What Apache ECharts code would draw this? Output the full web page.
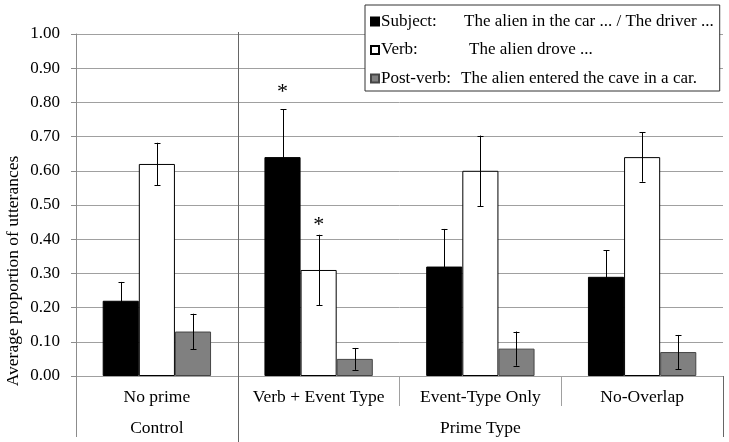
<!DOCTYPE html>
<html>
<head>
<meta charset="utf-8">
<script src="https://cdn.jsdelivr.net/npm/echarts@6/dist/echarts.min.js"></script>
<style>html,body{margin:0;padding:0;background:#fff;}#c{width:729px;height:442px;}</style>
</head>
<body>
<div id="c"></div>
<script>
const categories = ['No prime', 'Verb + Event Type', 'Event-Type Only', 'No-Overlap'];
const groupNames = ['Control', 'Prime Type'];
const groupStart = [0, 1];
const groupEnd = [0, 3];
const seriesNames = ['Subject:', 'Verb:', 'Post-verb:'];
const legendDesc = ['The alien in the car ... / The driver ...', 'The alien drove ...', 'The alien entered the cave in a car.'];
const subjectValues = [0.22, 0.64, 0.32, 0.29];
const verbValues = [0.62, 0.31, 0.60, 0.64];
const postVerbValues = [0.13, 0.05, 0.08, 0.07];
const subjectErrors = [0.055, 0.14, 0.11, 0.078];
const verbErrors = [0.062, 0.103, 0.103, 0.072];
const postVerbErrors = [0.052, 0.032, 0.05, 0.05];
const starCategory = [1, 1];
const starSeries = [0, 1];
const starValues = [0.83, 0.44];
const yTitle = 'Average proportion of utterances';

const FONT = '"Liberation Serif", "Times New Roman", serif';
const values = [subjectValues, verbValues, postVerbValues];
const errors = [subjectErrors, verbErrors, postVerbErrors];
const fills = ['#000000', '#ffffff', '#808080'];
const borders = ['#000000', '#000000', '#454545'];
const CAT_GAP = 0.33;

const chart = echarts.init(document.getElementById('c'), null, {renderer: 'canvas'});

const errData = [];
values.forEach((vals, s) => vals.forEach((v, i) => errData.push([i, v, errors[s][i], s])));
const starData = starCategory.map((c, k) => [c, starValues[k], starSeries[k]]);

function barOffset(api, s) {
  const bw = api.size([1, 0])[0];
  const barW = bw * (1 - CAT_GAP) / 3;
  return (s - 1) * barW;
}

const nameWidths = [83, 88, 80];
const rich = {d: {fontFamily: FONT, fontSize: 17, color: '#000'}};
nameWidths.forEach((w, i) => { rich['n' + i] = {fontFamily: FONT, fontSize: 17, color: '#000', width: w}; });

const option = {
  animation: false,
  backgroundColor: '#fff',
  grid: {left: 76, right: 6, top: 34, bottom: 66, containLabel: false},
  legend: {
    orient: 'vertical',
    left: 365, top: 5,
    padding: [8, 6, 4, 5],
    backgroundColor: '#fff',
    borderColor: '#333',
    borderWidth: 1,
    itemWidth: 8, itemHeight: 8, itemGap: 11.5,
    icon: 'rect',
    data: seriesNames,
    formatter: name => {
      const i = seriesNames.indexOf(name);
      return '{n' + i + '|' + name + '}{d|' + legendDesc[i] + '}';
    },
    textStyle: {fontFamily: FONT, fontSize: 17, color: '#000', padding: [0, 0, 0, -3], rich: rich}
  },
  xAxis: {
    type: 'category',
    data: categories,
    axisLine: {lineStyle: {color: '#a0a0a0', width: 1}},
    axisTick: {show: true, length: 30, interval: 0, lineStyle: {color: '#a0a0a0'}},
    axisLabel: {fontFamily: FONT, fontSize: 17.5, color: '#000', margin: 12, interval: 0}
  },
  yAxis: {
    type: 'value',
    min: 0, max: 1, interval: 0.1,
    axisLine: {show: true, lineStyle: {color: '#8c8c8c'}},
    axisTick: {show: true, length: 5, lineStyle: {color: '#8c8c8c'}},
    axisLabel: {fontFamily: FONT, fontSize: 17, color: '#000', margin: 16, formatter: v => v.toFixed(2)},
    splitLine: {lineStyle: {color: '#a0a0a0', width: 1}}
  },
  series: seriesNames.map((n, s) => ({
    name: n,
    type: 'bar',
    data: values[s],
    barGap: '0%',
    barCategoryGap: (CAT_GAP * 100) + '%',
    itemStyle: {color: fills[s], borderColor: borders[s], borderWidth: 1},
    z: 2
  })).concat([{
    name: 'errors',
    type: 'custom',
    data: errData,
    encode: {x: 0, y: 1},
    z: 5,
    silent: true,
    renderItem: (params, api) => {
      const cat = api.value(0), v = api.value(1), e = api.value(2), s = api.value(3);
      const x = Math.round(api.coord([cat, v])[0] + barOffset(api, s)) + 0.5;
      const yHi = api.coord([cat, v + e])[1];
      const yLo = api.coord([cat, v - e])[1];
      const cap = 3;
      const st = {stroke: '#000', lineWidth: 1};
      return {type: 'group', children: [
        {type: 'line', shape: {x1: x, y1: yHi, x2: x, y2: yLo}, style: st},
        {type: 'line', shape: {x1: x - cap, y1: Math.round(yHi) + 0.5, x2: x + cap, y2: Math.round(yHi) + 0.5}, style: st},
        {type: 'line', shape: {x1: x - cap, y1: Math.round(yLo) + 0.5, x2: x + cap, y2: Math.round(yLo) + 0.5}, style: st}
      ]};
    }
  }, {
    name: 'stars',
    type: 'custom',
    data: starData,
    encode: {x: 0, y: 1},
    z: 6,
    silent: true,
    renderItem: (params, api) => {
      const cat = api.value(0), v = api.value(1), s = api.value(2);
      const p = api.coord([cat, v]);
      return {type: 'text', x: p[0] + barOffset(api, s), y: p[1],
        style: {text: '*', fontFamily: FONT, fontSize: 22, fill: '#000', align: 'center', verticalAlign: 'middle'}};
    }
  }])
};

chart.setOption(option);

// derived decorations: group separators and second-level labels
function catBoundary(i) {
  const c0 = chart.convertToPixel({xAxisIndex: 0}, 0);
  const c1 = chart.convertToPixel({xAxisIndex: 0}, 1);
  const bw = c1 - c0;
  return c0 - bw / 2 + bw * i;
}
const yBase = chart.convertToPixel({yAxisIndex: 0}, 0);
const yTop = chart.convertToPixel({yAxisIndex: 0}, 1);
const H = chart.getHeight();
const lineStyle = {stroke: '#666', lineWidth: 1};
const graphics = [];
const boundaries = [0];
groupEnd.forEach(e => boundaries.push(e + 1));
boundaries.forEach((b, k) => {
  const x = Math.round(catBoundary(b)) + 0.5;
  const inner = k > 0 && k < boundaries.length - 1;
  graphics.push({type: 'line', shape: {x1: x, y1: inner ? yTop - 2 : yBase, x2: x, y2: inner ? H : yBase + 61}, style: k === 0 ? {stroke: '#8c8c8c', lineWidth: 1} : lineStyle, z: 10});
});
groupNames.forEach((g, k) => {
  const xc = (catBoundary(groupStart[k]) + catBoundary(groupEnd[k] + 1)) / 2;
  graphics.push({type: 'text', x: xc, y: yBase + 52, style: {text: g, fontFamily: FONT, fontSize: 17.5, fill: '#000', align: 'center', verticalAlign: 'middle'}});
});
graphics.push({type: 'text', x: 13, y: 271, rotation: Math.PI / 2,
  style: {text: yTitle, fontFamily: FONT, fontSize: 17.5, fill: '#000', align: 'center', verticalAlign: 'middle'}});
chart.setOption({graphic: graphics});
</script>
</body>
</html>
